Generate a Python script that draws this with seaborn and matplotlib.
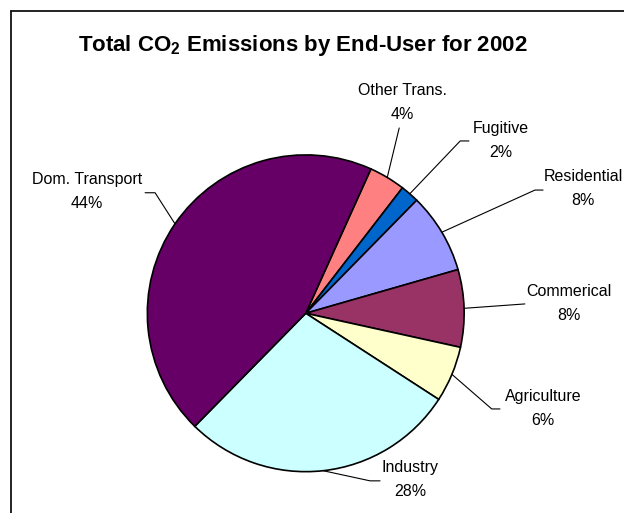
import numpy as np
import matplotlib
matplotlib.use("Agg")
import matplotlib.pyplot as plt
from matplotlib.lines import Line2D
import seaborn as sns

# data
sectors = ['Other Trans.', 'Fugitive', 'Residential', 'Commerical',
           'Agriculture', 'Industry', 'Dom. Transport']
shares = [3.7, 1.9, 8.2, 7.9, 5.7, 28.2, 44.4]
pct_labels = ['4%', '2%', '8%', '8%', '6%', '28%', '44%']
colors = ['#FF8080', '#0066CC', '#9999FF', '#993366',
          '#FFFFCC', '#CCFFFF', '#660066']

# label layout (units of pie radius, relative to centre)
text_pos = [(0.61, 1.33), (1.23, 1.09), (1.75, 0.785), (1.66, 0.06),
            (1.50, -0.60), (0.66, -1.05), (-1.38, 0.77)]
elbow_pos = [(0.59, 1.17), (0.975, 1.088), (1.447, 0.778), (1.383, 0.059),
             (1.174, -0.604), (0.406, -1.058), (-0.951, 0.761)]
end_pos = [(0.59, 1.17), (1.03, 1.088), (1.498, 0.778), (1.383, 0.059),
           (1.226, -0.604), (0.469, -1.058), (-1.014, 0.761)]

sns.set_theme(style="white")
plt.rcParams['font.family'] = ['Liberation Sans', 'DejaVu Sans']
plt.rcParams['text.color'] = 'black'
plt.rcParams['mathtext.fontset'] = 'custom'
plt.rcParams['mathtext.rm'] = 'Liberation Sans'
plt.rcParams['mathtext.bf'] = 'Liberation Sans:bold'

fig = plt.figure(figsize=(6.24, 5.13), dpi=100)
ax = fig.add_axes([0, 0, 1, 1])

wedges, _ = ax.pie(shares, colors=sns.color_palette(colors), startangle=65.7,
                   counterclock=False,
                   wedgeprops=dict(edgecolor='black', linewidth=1.2))

ax.set_xlim(-1.930, 2.009)
ax.set_ylim(-1.261, 1.978)
ax.set_aspect('auto')
ax.axis('off')

for w, name, pct, tp, ep, en in zip(wedges, sectors, pct_labels,
                                    text_pos, elbow_pos, end_pos):
    mid = np.deg2rad((w.theta1 + w.theta2) / 2)
    x0, y0 = np.cos(mid), np.sin(mid)
    ax.plot([x0, ep[0], en[0]], [y0, ep[1], en[1]], color='black', lw=0.8)
    ax.text(tp[0], tp[1], name + '\n' + pct, ha='center', va='center',
            fontsize=11.5, linespacing=1.75, color='black')

fig.text(0.485, 1 - 45 / 513, r'Total CO$_\mathbf{2}$ Emissions by End-User for 2002',
         ha='center', va='center', fontsize=16, fontweight='bold', color='black')

# chart frame (right and bottom sides fall outside the picture)
fig.add_artist(Line2D([10.5 / 624, 1], [1 - 11 / 513] * 2, color='#111111', lw=1.3))
fig.add_artist(Line2D([10.5 / 624] * 2, [0, 1 - 11 / 513], color='#111111', lw=1.3))

fig.savefig('out.png', dpi=100, facecolor='white')
